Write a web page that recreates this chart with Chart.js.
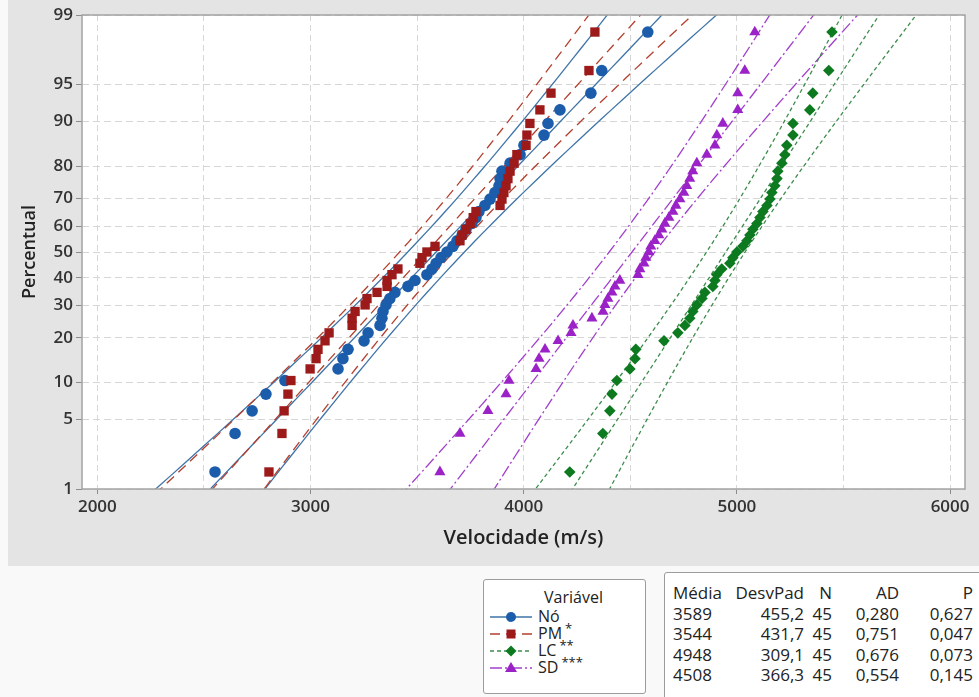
<!DOCTYPE html>
<html lang="pt">
<head>
<meta charset="utf-8">
<script src="https://cdn.jsdelivr.net/npm/chart.js@4.4.1/dist/chart.umd.min.js"></script>
<style>
  html, body { margin: 0; padding: 0; }
  body { width: 979px; height: 697px; position: relative; overflow: hidden; background: #f9f9f9;
         font-family: 'Open Sans', sans-serif; color: #222; }
  #panel { position: absolute; left: 8px; top: 0; width: 971px; height: 566px; background: #e4e4e4; }
  #chart { position: absolute; left: 0; top: 0; }
  .box { position: absolute; background: #fff; border: 1px solid #9c9c9c; border-radius: 3px; }
  #legend { left: 483px; top: 579px; width: 161px; height: 113px; font-size: 16px; font-weight: 500; }
  #legend .ttl { position: absolute; left: 60px; top: 6px; }
  #legend .row { position: absolute; left: 6px; height: 17px; }
  #legend svg { position: absolute; left: 0; top: 1px; }
  #legend .lbl { position: absolute; left: 48px; top: -4px; white-space: nowrap; line-height: 22px; }
  #legend .ast { font-size: 13px; position: relative; top: -6px; margin-left: 3px; }
  #stats { left: 664px; top: 572px; width: 340px; height: 140px; font-size: 17px; font-weight: 500; }
  #stats span { position: absolute; white-space: nowrap; line-height: 20px; }
</style>
</head>
<body>
<div id="panel"></div>
<canvas id="chart" width="979" height="566"></canvas>
<div id="legend" class="box"></div>
<div id="stats" class="box"></div>
<script>
// Normal probability plot of velocities, four groups, 95% CI bands
const seriesNames = ['Nó', 'PM', 'LC', 'SD'];
const seriesMarks = ['', '*', '**', '***'];

// sorted velocities (m/s)
const velNo = [2552, 2646, 2726, 2791, 2880, 3129, 3152, 3176, 3251, 3270, 3326, 3335, 3340, 3354, 3372,
  3396, 3457, 3490, 3546, 3570, 3589, 3612, 3640, 3668, 3687, 3711, 3729, 3757, 3776, 3790,
  3818, 3842, 3865, 3884, 3889, 3898, 3936, 3983, 4001, 4095, 4114, 4170, 4315, 4366, 4582];
const velPM = [2805, 2866, 2876, 2894, 2908, 2998, 3026, 3035, 3068, 3087, 3195, 3195, 3209, 3256, 3265,
  3312, 3359, 3359, 3382, 3410, 3513, 3523, 3546, 3584, 3701, 3711, 3729, 3749, 3763, 3776,
  3889, 3898, 3907, 3917, 3926, 3936, 3955, 3968, 4011, 4015, 4029, 4076, 4128, 4306, 4334];
const velLC = [4216, 4371, 4404, 4414, 4437, 4498, 4522, 4526, 4658, 4723, 4756, 4779, 4793, 4812, 4836,
  4850, 4887, 4897, 4906, 4929, 4967, 4981, 5000, 5028, 5047, 5061, 5075, 5094, 5108, 5122,
  5141, 5155, 5164, 5178, 5188, 5192, 5211, 5225, 5234, 5263, 5263, 5342, 5356, 5431, 5446];
const velSD = [3607, 3701, 3832, 3917, 3931, 4058, 4072, 4100, 4161, 4222, 4231, 4320, 4372, 4381, 4395,
  4414, 4428, 4451, 4536, 4545, 4564, 4573, 4587, 4596, 4615, 4634, 4648, 4662, 4681, 4700,
  4714, 4733, 4751, 4765, 4779, 4793, 4812, 4859, 4897, 4906, 4934, 5004, 5004, 5037, 5084];

// summary table
const media = [3589, 3544, 4948, 4508];
const desvPad = [455.2, 431.7, 309.1, 366.3];
const nObs = [45, 45, 45, 45];
const adStat = ['0,280', '0,751', '0,676', '0,554'];
const pValor = ['0,627', '0,047', '0,073', '0,145'];

// axis ticks
const pctTicks = [1, 5, 10, 20, 30, 40, 50, 60, 70, 80, 90, 95, 99];
const xTicks = [2000, 2500, 3000, 3500, 4000, 4500, 5000, 5500, 6000];

const styles = [
  { pt: '#1c5dab', line: '#3f74a8', dash: [], shape: 'circle', r: 5.8 },
  { pt: '#9d1a1a', line: '#b3402f', dash: [10, 6], shape: 'rect', r: 6.6 },
  { pt: '#0d7a20', line: '#3c8c4c', dash: [4, 3], shape: 'rectRot', r: 5.8 },
  { pt: '#9a22c6', line: '#a23fcc', dash: [12, 3, 2, 3], shape: 'triangle', r: 6.4 }
];
const allVel = [velNo, velPM, velLC, velSD];

// inverse standard normal (Acklam)
function probit(p) {
  const a = [-39.69683028665376, 220.9460984245205, -275.9285104469687, 138.3577518672690, -30.66479806614716, 2.506628277459239];
  const b = [-54.47609879822406, 161.5858368580409, -155.6989798598866, 66.80131188771972, -13.28068155288572];
  const c = [-0.007784894002430293, -0.3223964580411365, -2.400758277161838, -2.549732539343734, 4.374664141464968, 2.938163982698783];
  const d = [0.007784695709041462, 0.3224671290700398, 2.445134137142996, 3.754408661907416];
  const tail = q => (((((c[0]*q+c[1])*q+c[2])*q+c[3])*q+c[4])*q+c[5]) / ((((d[0]*q+d[1])*q+d[2])*q+d[3])*q+1);
  if (p < 0.02425) return tail(Math.sqrt(-2 * Math.log(p)));
  if (p > 0.97575) return -tail(Math.sqrt(-2 * Math.log(1 - p)));
  const q = p - 0.5, r = q * q;
  return (((((a[0]*r+a[1])*r+a[2])*r+a[3])*r+a[4])*r+a[5])*q / (((((b[0]*r+b[1])*r+b[2])*r+b[3])*r+b[4])*r+1);
}

const yMin = probit(0.01), yMax = probit(0.99);
const zGrid = Array.from({ length: 55 }, (_, k) => -2.7 + k * 0.1);

const pointSets = [], lineSets = [];
[1, 0, 2, 3].forEach(i => {
  const v = allVel[i], n = v.length, st = styles[i];
  pointSets.push({
    label: seriesNames[i],
    data: v.map((x, k) => ({ x, y: probit((k + 1 - 0.3) / (n + 0.4)) })),
    pointStyle: st.shape, pointRadius: st.r, pointBackgroundColor: st.pt,
    pointBorderColor: st.pt, pointBorderWidth: 0, showLine: false
  });
  // fitted normal line and 95% confidence band
  const m = media[i], s = desvPad[i], N = nObs[i];
  const half = z => 1.96 * s * Math.sqrt(1 / N + z * z / (2 * N));
  const common = { showLine: true, pointRadius: 0, borderColor: st.line, borderWidth: 1.3, borderDash: st.dash, clip: 0 };
  lineSets.push({ ...common, data: zGrid.map(z => ({ x: m + s * z, y: z })) });
  lineSets.push({ ...common, data: zGrid.map(z => ({ x: m + s * z - half(z), y: z })) });
  lineSets.push({ ...common, data: zGrid.map(z => ({ x: m + s * z + half(z), y: z })) });
});

const plotFrame = {
  id: 'plotFrame',
  beforeDraw(chart) {
    const { ctx, chartArea: a } = chart;
    ctx.save();
    ctx.fillStyle = '#fff';
    ctx.fillRect(a.left, a.top, a.width, a.height);
    ctx.restore();
  },
  afterDraw(chart) {
    const { ctx, chartArea: a } = chart;
    ctx.save();
    ctx.strokeStyle = '#a3a3a3';
    ctx.lineWidth = 1.5;
    ctx.strokeRect(a.left, a.top, a.width, a.height);
    ctx.restore();
  }
};

const tickFont = { family: "'Open Sans', sans-serif", size: 17, weight: '600' };
const titleFont = { family: "'Open Sans', sans-serif", size: 20, weight: '600' };
const gridColor = '#d6d6d6';

new Chart(document.getElementById('chart'), {
  type: 'scatter',
  data: { datasets: [...pointSets, ...lineSets] },
  options: {
    responsive: false,
    animation: false,
    layout: { padding: { top: 15, right: 14, left: 0, bottom: 0 } },
    plugins: { legend: { display: false }, tooltip: { enabled: false } },
    scales: {
      x: {
        type: 'linear', min: 1928, max: 6070,
        afterFit: s => { s.height = 77; },
        afterBuildTicks: s => { s.ticks = xTicks.map(v => ({ value: v })); },
        ticks: { font: tickFont, color: '#333', padding: 3, maxRotation: 0,
                 callback: v => (v % 1000 === 0 ? String(v) : '') },
        grid: { color: gridColor, tickLength: 5,
                tickColor: c => (c.tick && c.tick.value % 1000 === 0 ? '#8c8c8c' : 'rgba(0,0,0,0)') },
        border: { display: false, dash: [6, 4] },
        title: { display: true, text: 'Velocidade (m/s)', font: titleFont, color: '#222', padding: { bottom: 16 } }
      },
      y: {
        type: 'linear', min: yMin, max: yMax,
        afterFit: s => { s.width = 82; },
        afterBuildTicks: s => { s.ticks = pctTicks.map(p => ({ value: probit(p / 100) })); },
        ticks: { font: tickFont, color: '#333', padding: 3, callback: (v, i) => String(pctTicks[i]) },
        grid: { color: gridColor, tickLength: 6, tickColor: '#8c8c8c' },
        border: { display: false, dash: [7, 4] },
        title: { display: true, text: 'Percentual', font: { ...titleFont, size: 18 }, color: '#222', padding: { top: 19 } }
      }
    }
  },
  plugins: [plotFrame]
});

// legend box
const legend = document.getElementById('legend');
legend.innerHTML = '<div class="ttl">Variável</div>';
seriesNames.forEach((name, i) => {
  const st = styles[i];
  const cy = 7;
  let mark;
  if (st.shape === 'circle') mark = `<circle cx="21" cy="${cy}" r="5" fill="${st.pt}"/>`;
  else if (st.shape === 'rect') mark = `<rect x="16.5" y="${cy - 4.5}" width="9" height="9" fill="${st.pt}"/>`;
  else if (st.shape === 'rectRot') mark = `<polygon points="21,${cy - 5.5} 26.5,${cy} 21,${cy + 5.5} 15.5,${cy}" fill="${st.pt}"/>`;
  else mark = `<polygon points="21,${cy - 6} 27,${cy + 4} 15,${cy + 4}" fill="${st.pt}"/>`;
  const row = document.createElement('div');
  row.className = 'row';
  row.style.top = (29 + i * 17) + 'px';
  row.innerHTML = `<svg width="42" height="14"><line x1="0" y1="${cy}" x2="42" y2="${cy}" stroke="${st.line}" stroke-width="1.4" stroke-dasharray="${st.dash.join(' ')}"/>${mark}</svg>` +
    `<span class="lbl">${name}${seriesMarks[i] ? '<span class="ast">' + seriesMarks[i] + '</span>' : ''}</span>`;
  legend.appendChild(row);
});

// statistics table
const stats = document.getElementById('stats');
const cols = [
  { head: 'Média', vals: media.map(String), left: 8 },
  { head: 'DesvPad', vals: desvPad.map(v => v.toFixed(1).replace('.', ',')), right: 139 },
  { head: 'N', vals: nObs.map(String), right: 167 },
  { head: 'AD', vals: adStat, right: 234 },
  { head: 'P', vals: pValor, right: 308 }
];
const bw = 340;
cols.forEach(col => {
  [col.head, ...col.vals].forEach((txt, r) => {
    const s = document.createElement('span');
    s.textContent = txt;
    s.style.top = (10 + r * 20.5) + 'px';
    if (col.left !== undefined) s.style.left = col.left + 'px';
    else s.style.right = (bw - col.right) + 'px';
    stats.appendChild(s);
  });
});
</script>
</body>
</html>
